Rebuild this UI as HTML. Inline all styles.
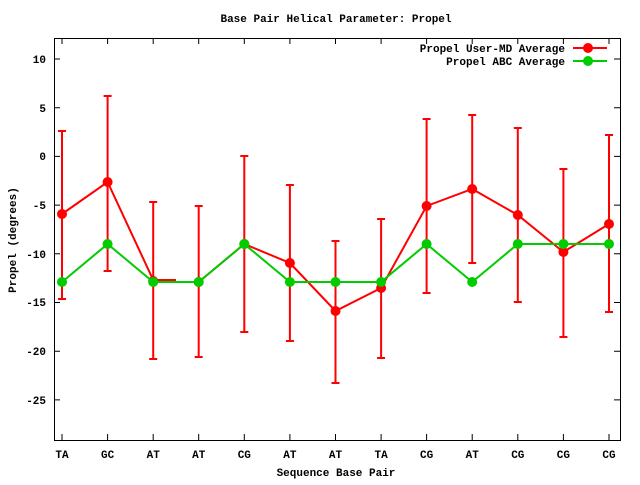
<!DOCTYPE html><html><head><style>body{margin:0;background:#fff}text{font-family:"Liberation Mono",monospace;font-size:11px;font-weight:bold;fill:#000}</style></head><body>
<svg width="640" height="480" xmlns="http://www.w3.org/2000/svg">
<rect width="640" height="480" fill="#fff"/>
<text x="336" y="22" text-anchor="middle">Base Pair Helical Parameter: Propel</text>
<g stroke="#000" stroke-width="1">
<rect x="54.5" y="38.5" width="566" height="402" fill="none"/>
<path d="M54 59h6M620 59h-6M54 107.7h6M620 107.7h-6M54 156.4h6M620 156.4h-6M54 205.1h6M620 205.1h-6M54 253.8h6M620 253.8h-6M54 302.5h6M620 302.5h-6M54 351.2h6M620 351.2h-6M54 399.9h6M620 399.9h-6"/>
<path d="M62 440v-6M62 38v6M107.6 440v-6M107.6 38v6M153.2 440v-6M153.2 38v6M198.7 440v-6M198.7 38v6M244.3 440v-6M244.3 38v6M289.9 440v-6M289.9 38v6M335.5 440v-6M335.5 38v6M381.1 440v-6M381.1 38v6M426.6 440v-6M426.6 38v6M472.2 440v-6M472.2 38v6M517.8 440v-6M517.8 38v6M563.4 440v-6M563.4 38v6M609 440v-6M609 38v6"/>
</g>
<g text-anchor="end">
<text x="46" y="63">10</text><text x="46" y="112">5</text><text x="46" y="160">0</text><text x="46" y="209">-5</text><text x="46" y="258">-10</text><text x="46" y="306">-15</text><text x="46" y="355">-20</text><text x="46" y="404">-25</text>
</g>
<g text-anchor="middle">
<text x="62" y="458">TA</text><text x="107.6" y="458">GC</text><text x="153.2" y="458">AT</text><text x="198.7" y="458">AT</text><text x="244.3" y="458">CG</text><text x="289.9" y="458">AT</text><text x="335.5" y="458">AT</text><text x="381.1" y="458">TA</text><text x="426.6" y="458">CG</text><text x="472.2" y="458">AT</text><text x="517.8" y="458">CG</text><text x="563.4" y="458">CG</text><text x="609" y="458">CG</text>
<text x="336" y="476">Sequence Base Pair</text>
</g>
<text transform="translate(16,240) rotate(-90)" text-anchor="middle">Propel (degrees)</text>
<g stroke="#f00" stroke-width="2" fill="none">
<path d="M62 131V299M58 131h8M58 299h8M107.6 96V271M103.6 96h8M103.6 271h8M153.2 202V359M149.2 202h8M149.2 359h8M198.7 206V357M194.7 206h8M194.7 357h8M244.3 156V332M240.3 156h8M240.3 332h8M289.9 185V341M285.9 185h8M285.9 341h8M335.5 241V383M331.5 241h8M331.5 383h8M381.1 219V358M377.1 219h8M377.1 358h8M426.6 119V293M422.6 119h8M422.6 293h8M472.2 115V263M468.2 115h8M468.2 263h8M517.8 128V302M513.8 128h8M513.8 302h8M563.4 169V337M559.4 169h8M559.4 337h8M609 135V312M605 135h8M605 312h8"/>
<polyline points="62,214 107.6,182 153.2,280 176,280"/>
<polyline points="198.7,282 244.3,244 289.9,263 335.5,311 381.1,288 426.6,206 472.2,189 517.8,215 563.4,252 609,224"/>
<path d="M573 48h34"/>
</g>
<g fill="#f00">
<circle cx="62" cy="214" r="5"/><circle cx="107.6" cy="182" r="5"/><circle cx="153.2" cy="281" r="5"/><circle cx="198.7" cy="282" r="5"/><circle cx="244.3" cy="244" r="5"/><circle cx="289.9" cy="263" r="5"/><circle cx="335.5" cy="311" r="5"/><circle cx="381.1" cy="288" r="5"/><circle cx="426.6" cy="206" r="5"/><circle cx="472.2" cy="189" r="5"/><circle cx="517.8" cy="215" r="5"/><circle cx="563.4" cy="252" r="5"/><circle cx="609" cy="224" r="5"/><circle cx="588" cy="48" r="5"/>
</g>
<g stroke="#0c0" stroke-width="2" fill="none">
<polyline points="62,282 107.6,244 153.2,282 198.7,282 244.3,244 289.9,282 335.5,282 381.1,282 426.6,244 472.2,282 517.8,244 563.4,244 609,244"/>
<path d="M573 61h34"/>
</g>
<g fill="#0c0">
<circle cx="62" cy="282" r="5"/><circle cx="107.6" cy="244" r="5"/><circle cx="153.2" cy="282" r="5"/><circle cx="198.7" cy="282" r="5"/><circle cx="244.3" cy="244" r="5"/><circle cx="289.9" cy="282" r="5"/><circle cx="335.5" cy="282" r="5"/><circle cx="381.1" cy="282" r="5"/><circle cx="426.6" cy="244" r="5"/><circle cx="472.2" cy="282" r="5"/><circle cx="517.8" cy="244" r="5"/><circle cx="563.4" cy="244" r="5"/><circle cx="609" cy="244" r="5"/><circle cx="588" cy="61" r="5"/>
</g>
<g text-anchor="end"><text x="565" y="52">Propel User-MD Average</text><text x="565" y="65">Propel ABC Average</text></g>
</svg></body></html>
